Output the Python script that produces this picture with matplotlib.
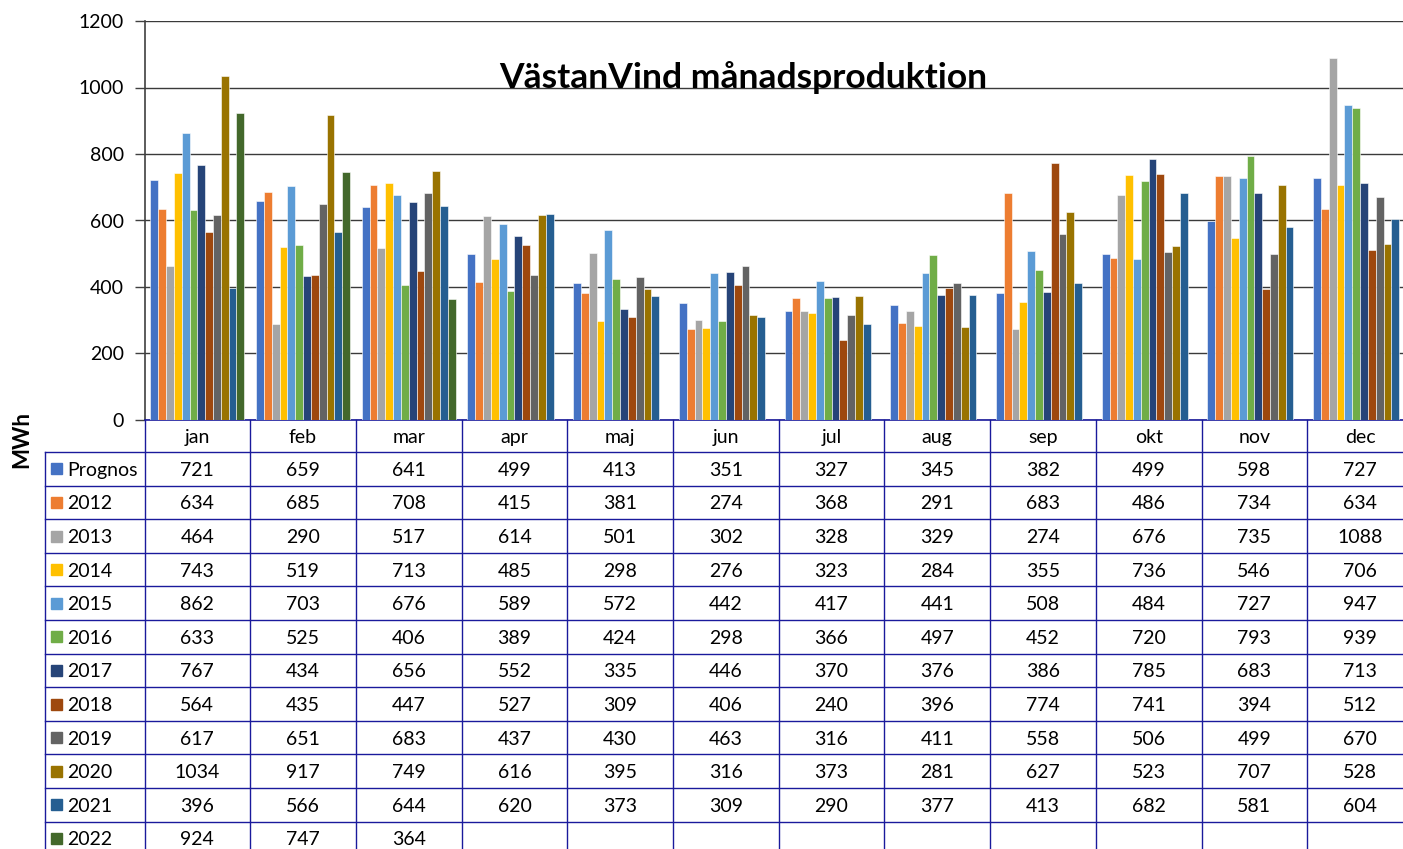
import matplotlib
matplotlib.use("Agg")
import matplotlib.pyplot as plt
from matplotlib.lines import Line2D
from matplotlib.patches import Rectangle
import numpy as np

plt.rcParams['font.family'] = ['Lato', 'DejaVu Sans']

months = ["jan", "feb", "mar", "apr", "maj", "jun", "jul", "aug", "sep", "okt", "nov", "dec"]
series_names = ["Prognos", "2012", "2013", "2014", "2015", "2016", "2017", "2018", "2019", "2020", "2021", "2022"]

prognos = [721, 659, 641, 499, 413, 351, 327, 345, 382, 499, 598, 727]
y2012 = [634, 685, 708, 415, 381, 274, 368, 291, 683, 486, 734, 634]
y2013 = [464, 290, 517, 614, 501, 302, 328, 329, 274, 676, 735, 1088]
y2014 = [743, 519, 713, 485, 298, 276, 323, 284, 355, 736, 546, 706]
y2015 = [862, 703, 676, 589, 572, 442, 417, 441, 508, 484, 727, 947]
y2016 = [633, 525, 406, 389, 424, 298, 366, 497, 452, 720, 793, 939]
y2017 = [767, 434, 656, 552, 335, 446, 370, 376, 386, 785, 683, 713]
y2018 = [564, 435, 447, 527, 309, 406, 240, 396, 774, 741, 394, 512]
y2019 = [617, 651, 683, 437, 430, 463, 316, 411, 558, 506, 499, 670]
y2020 = [1034, 917, 749, 616, 395, 316, 373, 281, 627, 523, 707, 528]
y2021 = [396, 566, 644, 620, 373, 309, 290, 377, 413, 682, 581, 604]
y2022 = [924, 747, 364, None, None, None, None, None, None, None, None, None]

all_series = [prognos, y2012, y2013, y2014, y2015, y2016, y2017, y2018, y2019, y2020, y2021, y2022]
colors = ["#4472C4", "#ED7D31", "#A5A5A5", "#FFC000", "#5B9BD5", "#70AD47",
          "#264478", "#9E480E", "#636363", "#997300", "#255E91", "#43682B"]

W, H = 1403, 849
fig = plt.figure(figsize=(W / 100, H / 100), dpi=100)

x0 = 144.5
colw = 105.7
ax_top = 21
ax_bot = 420
ax = fig.add_axes([x0 / W, (H - ax_bot) / H, 12 * colw / W, (ax_bot - ax_top) / H])

n = len(all_series)
w = 1.0 / (n + 1.5)
xs = np.arange(len(months))
for j, (vals, c) in enumerate(zip(all_series, colors)):
    v = np.array([np.nan if a is None else a for a in vals], dtype=float)
    ax.bar(xs - n * w / 2 + (j + 0.5) * w, v, width=w, color=c,
           edgecolor="white", linewidth=0.4, zorder=3)

ax.set_xlim(-0.5, 11.5)
ax.set_ylim(0, 1200)
ax.set_yticks(range(0, 1201, 200))
ax.yaxis.grid(True, color="#3a3a3a", linewidth=1.0, zorder=0)
ax.set_xticks([])
for s in ["top", "right"]:
    ax.spines[s].set_visible(False)
ax.spines["left"].set_color("#404040")
ax.spines["left"].set_linewidth(1.2)
ax.spines["bottom"].set_color("#1a1a9c")
ax.spines["bottom"].set_linewidth(1.2)
ax.tick_params(axis="y", length=7, width=1, color="#404040", labelsize=14, pad=8)

fig.text(743 / W, 1 - 78 / H, "VästanVind månadsproduktion", fontsize=25.5,
         fontweight="bold", ha="center", va="center")
fig.text(22 / W, 1 - 440 / H, "MWh", fontsize=16, fontweight="bold",
         rotation=90, ha="center", va="center")

# data table in pixel coordinates
tab = fig.add_axes([0, 0, 1, 1], facecolor="none")
tab.set_xlim(0, W)
tab.set_ylim(H, 0)
tab.axis("off")
lc = "#1a1a9c"
hdr_top, hdr_bot = 420, 452
rowh = 33.6
leg_x = 45
bottom = hdr_bot + rowh * n
x_right = x0 + 12 * colw
dy = 1.5

for i in range(13):
    xe = x0 + i * colw
    tab.add_line(Line2D([xe, xe], [hdr_top, bottom], color=lc, lw=1))
tab.add_line(Line2D([leg_x, leg_x], [hdr_bot, bottom], color=lc, lw=1))
for r in range(n + 1):
    ye = hdr_bot + r * rowh
    tab.add_line(Line2D([leg_x, x_right], [ye, ye], color=lc, lw=1))

for i, m in enumerate(months):
    tab.text(x0 + (i + 0.5) * colw, (hdr_top + hdr_bot) / 2 + dy, m, fontsize=14,
             ha="center", va="center")

for r, (name, vals, c) in enumerate(zip(series_names, all_series, colors)):
    yc = hdr_bot + (r + 0.5) * rowh
    tab.add_patch(Rectangle((51, yc - 5.5), 11, 11, color=c))
    tab.text(67, yc + dy, name, fontsize=14, ha="left", va="center")
    for i, v in enumerate(vals):
        if v is not None:
            tab.text(x0 + (i + 0.5) * colw, yc + dy, str(v), fontsize=14,
                     ha="center", va="center")

fig.savefig("out.png", dpi=100)
